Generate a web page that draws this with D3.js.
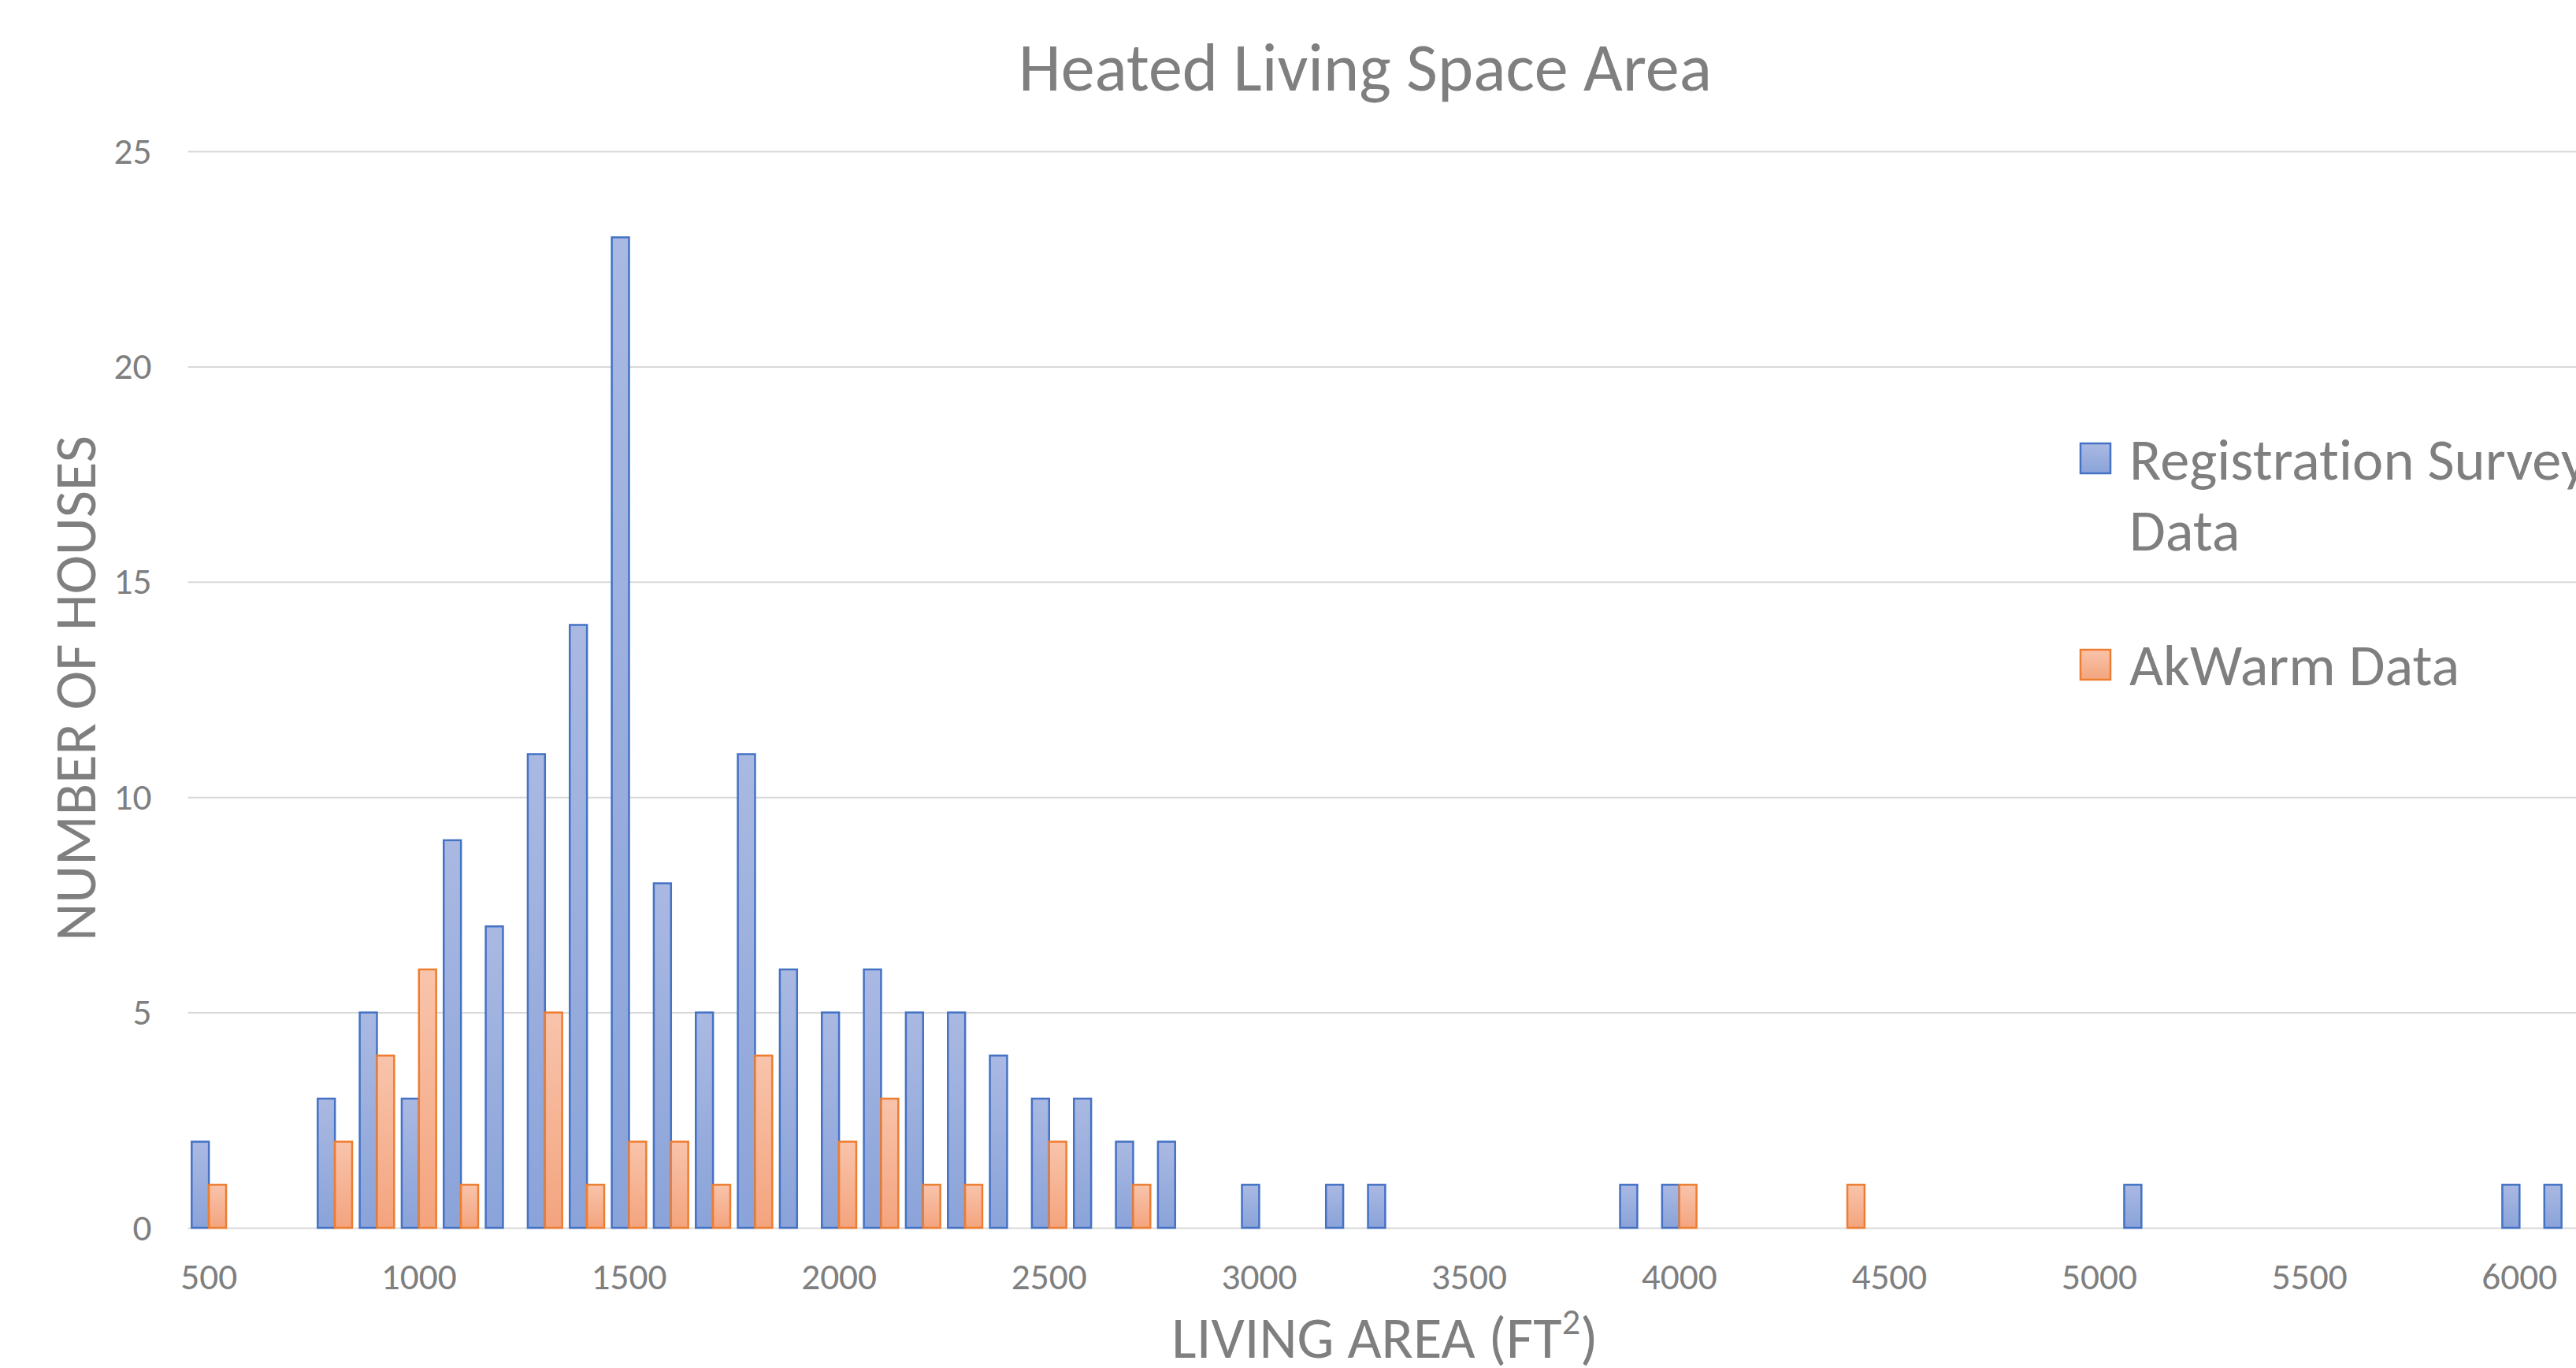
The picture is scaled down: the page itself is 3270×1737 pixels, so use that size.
<!DOCTYPE html>
<html>
<head>
<meta charset="utf-8">
<script src="https://cdn.jsdelivr.net/npm/d3@7/dist/d3.min.js"></script>
<style>
  body { margin: 0; background: #fff; overflow: hidden; }
  svg text { font-variant-ligatures: none; }
</style>
</head>
<body>
<div id="chart"></div>
<script>
// living area bins (ft2), one every 100
var categories = [500, 600, 700, 800, 900, 1000, 1100, 1200, 1300, 1400,
  1500, 1600, 1700, 1800, 1900, 2000, 2100, 2200, 2300, 2400,
  2500, 2600, 2700, 2800, 2900, 3000, 3100, 3200, 3300, 3400,
  3500, 3600, 3700, 3800, 3900, 4000, 4100, 4200, 4300, 4400,
  4500, 4600, 4700, 4800, 4900, 5000, 5100, 5200, 5300, 5400,
  5500, 5600, 5700, 5800, 5900, 6000, 6100];

var registration = [2, 0, 0, 3, 5, 3, 9, 7, 11, 14,
  23, 8, 5, 11, 6, 5, 6, 5, 5, 4,
  3, 3, 2, 2, 0, 1, 0, 1, 1, 0,
  0, 0, 0, 0, 1, 1, 0, 0, 0, 0,
  0, 0, 0, 0, 0, 0, 1, 0, 0, 0,
  0, 0, 0, 0, 0, 1, 1];

var akwarm = [1, 0, 0, 2, 4, 6, 1, 0, 5, 1,
  2, 2, 1, 4, 0, 2, 3, 1, 1, 0,
  2, 0, 1, 0, 0, 0, 0, 0, 0, 0,
  0, 0, 0, 0, 0, 1, 0, 0, 0, 1,
  0, 0, 0, 0, 0, 0, 0, 0, 0, 0,
  0, 0, 0, 0, 0, 0, 0];

var seriesKeys = ["reg", "ak"];
var xTickValues = [500, 1000, 1500, 2000, 2500, 3000, 3500, 4000, 4500, 5000, 5500, 6000];
var yTickValues = [0, 5, 10, 15, 20, 25];

var W = 3270, H = 1737;
var margin = {top: 192, left: 238.5, bottom: 1559};
var plotRight = margin.left + categories.length * 53.33;
var font = "Carlito, Lato, sans-serif";
var grey = "#7f7f7f";

var svg = d3.select("#chart").append("svg")
  .attr("width", W)
  .attr("height", H)
  .style("font-family", font);

// pick a font size so a string comes out at the measured width
function fitSize(str, target) {
  var t = svg.append("text").style("font-size", "100px").text(str);
  var w = t.node().getComputedTextLength();
  t.remove();
  return 100 * target / w;
}
var titleSize = fitSize("Heated Living Space Area", 880);
var labelSize = fitSize("NUMBER OF HOUSES", 642);
var tickSize = fitSize("3000", 96);

// gradients for the bars
var defs = svg.append("defs");
function grad(id, top, bottom) {
  var g = defs.append("linearGradient").attr("id", id)
    .attr("x1", 0).attr("y1", 0).attr("x2", 0).attr("y2", 1);
  g.append("stop").attr("offset", "0%").attr("stop-color", top);
  g.append("stop").attr("offset", "100%").attr("stop-color", bottom);
}
grad("g-reg", "#aab9e2", "#8aa3d9");
grad("g-ak", "#f8c4ab", "#f4a47e");
var fills = {reg: "url(#g-reg)", ak: "url(#g-ak)"};
var strokes = {reg: "#4472c4", ak: "#ed7d31"};

// scales
var x0 = d3.scaleBand()
  .domain(categories)
  .range([margin.left, plotRight])
  .paddingInner(0.18)
  .paddingOuter(0.09);
var x1 = d3.scaleBand()
  .domain(seriesKeys)
  .range([0, x0.bandwidth()]);
var y = d3.scaleLinear()
  .domain([0, 25])
  .range([margin.bottom, margin.top]);

// y gridlines + labels
var yAxis = svg.append("g")
  .attr("transform", "translate(" + margin.left + ",0)")
  .call(d3.axisLeft(y).tickValues(yTickValues)
    .tickSize(-(W - margin.left))
    .tickPadding(46));
yAxis.select(".domain").remove();
yAxis.selectAll("line").attr("stroke", "#d9d9d9").attr("stroke-width", 2);
yAxis.selectAll("text")
  .attr("fill", grey)
  .style("font-size", tickSize + "px")
  .style("font-family", font);

// x labels
var xAxis = svg.append("g")
  .attr("transform", "translate(0," + margin.bottom + ")")
  .call(d3.axisBottom(x0).tickValues(xTickValues).tickSize(0).tickPadding(44));
xAxis.select(".domain").remove();
xAxis.selectAll("text")
  .attr("fill", grey)
  .style("font-size", tickSize + "px")
  .style("font-family", font);

// bars
var rows = categories.map(function(c, i) {
  return {cat: c, values: [{key: "reg", v: registration[i]}, {key: "ak", v: akwarm[i]}]};
});
svg.append("g").selectAll("g")
  .data(rows)
  .join("g")
  .attr("transform", function(d) { return "translate(" + x0(d.cat) + ",0)"; })
  .selectAll("rect")
  .data(function(d) { return d.values.filter(function(s) { return s.v > 0; }); })
  .join("rect")
  .attr("x", function(d) { return x1(d.key); })
  .attr("y", function(d) { return y(d.v); })
  .attr("width", x1.bandwidth())
  .attr("height", function(d) { return y(0) - y(d.v); })
  .attr("fill", function(d) { return fills[d.key]; })
  .attr("stroke", function(d) { return strokes[d.key]; })
  .attr("stroke-width", 2.5);

// title
svg.append("text")
  .attr("x", 1733)
  .attr("y", 115)
  .attr("text-anchor", "middle")
  .attr("fill", grey)
  .style("font-size", titleSize + "px")
  .text("Heated Living Space Area");

// axis titles
svg.append("text")
  .attr("transform", "translate(121,874) rotate(-90)")
  .attr("text-anchor", "middle")
  .attr("fill", grey)
  .style("font-size", labelSize + "px")
  .text("NUMBER OF HOUSES");

var xt = svg.append("text")
  .attr("x", 1758)
  .attr("y", 1724)
  .attr("text-anchor", "middle")
  .attr("fill", grey)
  .style("font-size", labelSize + "px");
xt.append("tspan").text("LIVING AREA (FT");
xt.append("tspan").attr("dy", -0.4 * labelSize).style("font-size", (labelSize * 0.62) + "px").text("2");
xt.append("tspan").attr("dy", 0.4 * labelSize).text(")");

// legend
var legend = [
  {key: "reg", lines: ["Registration Survey", "Data"], box: 563, base: 609},
  {key: "ak", lines: ["AkWarm Data"], box: 825, base: 870}
];
var lg = svg.append("g").selectAll("g").data(legend).join("g");
lg.append("rect")
  .attr("x", 2641)
  .attr("y", function(d) { return d.box; })
  .attr("width", 38)
  .attr("height", 38)
  .attr("fill", function(d) { return fills[d.key]; })
  .attr("stroke", function(d) { return strokes[d.key]; })
  .attr("stroke-width", 2.5);
lg.append("text")
  .attr("y", function(d) { return d.base; })
  .attr("fill", grey)
  .style("font-size", labelSize + "px")
  .selectAll("tspan")
  .data(function(d) { return d.lines; })
  .join("tspan")
  .attr("x", 2703)
  .attr("dy", function(d, i) { return i ? 90 : 0; })
  .text(function(d) { return d; });
</script>
</body>
</html>
